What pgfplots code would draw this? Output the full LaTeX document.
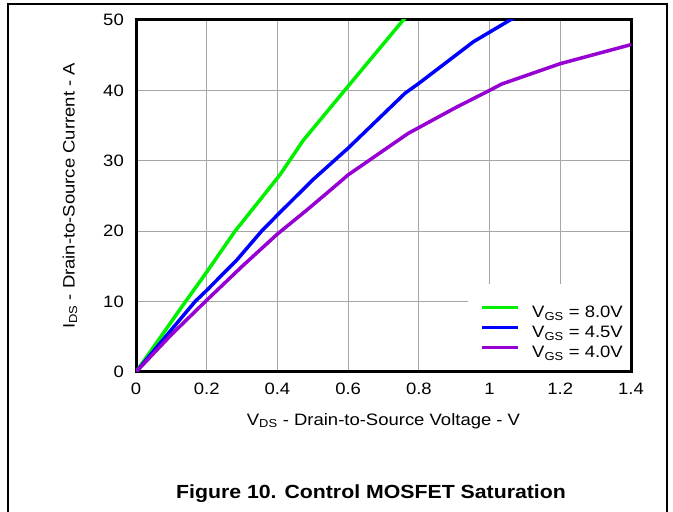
\documentclass[border=0pt]{standalone}
\usepackage{fontspec}
\setmainfont[FakeStretch=1.12]{Liberation Sans}
\usepackage{pgfplots}
\pgfplotsset{compat=1.18}

\definecolor{vgs8}{RGB}{0,240,0}
\definecolor{vgs45}{RGB}{0,0,255}
\definecolor{vgs4}{RGB}{150,0,210}

\newcommand{\tickfont}{\fontsize{16.5}{19}\selectfont}

\begin{document}
\begin{tikzpicture}
\useasboundingbox (0,0) rectangle (673pt,512pt);

\begin{axis}[
    at={(136pt,140pt)}, anchor=south west,
    scale only axis,
    width=495pt, height=352pt,
    xmin=0, xmax=1.4,
    ymin=0, ymax=50,
    xtick={0,0.2,...,1.4},
    ytick={0,10,...,50},
    major tick length=0pt,
    grid=major,
    grid style={gray!70, line width=1.2pt},
    axis line style={line width=3pt},
    /pgf/number format/assume math mode=true,
    xticklabel style={font=\tickfont, inner sep=0pt, anchor=north, yshift=-11pt},
    yticklabel style={font=\tickfont, inner sep=0pt, anchor=east, xshift=-12pt},
    xlabel={V\textsubscript{DS} - Drain-to-Source Voltage - V},
    ylabel={I\textsubscript{DS} - Drain-to-Source Current - A},
    label style={font=\tickfont},
    xlabel style={at={(axis description cs:0.5,-0.1506)}, anchor=base},
    ylabel style={at={(axis description cs:-0.1333,0.5)}, anchor=center},
    legend cell align=left,
    legend image code/.code={
        \path[draw=none, fill=none] (0pt,0pt) rectangle (58pt,1pt);
        \draw[#1, line width=3.5pt] (8pt,0.35em) -- (44pt,0.35em);
    },
    legend style={
        at={(1,0)}, anchor=south east, xshift=-8pt, yshift=12pt,
        draw=none, fill=none,
        inner sep=0pt,
        row sep=2pt,
        font=\tickfont,
        nodes={inner sep=0pt, text height=16pt, text depth=2pt},
    },
]

% white panel behind the legend, inside the axis frame
\fill[white] (rel axis cs:0.6707,0.25) rectangle ([shift={(-1.5pt,1.5pt)}]rel axis cs:1,0);

% VGS = 8.0V
\addplot[vgs8, line width=3.5pt] coordinates {
    (0,0) (0.14,10) (0.2,14.2) (0.28,20) (0.35,24.4) (0.407,28)
    (0.473,32.9) (0.6,40.6) (0.756,50) (0.8,52.6)
};
\addlegendentry{V\textsubscript{GS} = 8.0V}

% VGS = 4.5V
\addplot[vgs45, line width=3.5pt] coordinates {
    (0,0) (0.1,6) (0.167,10) (0.2,11.6) (0.285,15.9) (0.355,20) (0.4,22.3)
    (0.5,27.3) (0.6,31.8) (0.761,39.6) (0.8,41.0) (0.954,46.9) (1.058,50)
    (1.1,51.2)
};
\addlegendentry{V\textsubscript{GS} = 4.5V}

% VGS = 4.0V
\addplot[vgs4, line width=3.5pt] coordinates {
    (0,0) (0.1,5.3) (0.2,10.2) (0.3,15) (0.4,19.6) (0.483,23) (0.556,26.1)
    (0.6,28) (0.77,33.9) (0.902,37.5) (1.0,40) (1.034,40.9) (1.2,43.8)
    (1.4,46.5)
};
\addlegendentry{V\textsubscript{GS} = 4.0V}

\end{axis}

% outer figure frame
\draw[line width=1.5pt] (8pt,0pt) -- (8pt,508pt) -- (667pt,508pt) -- (667pt,0pt);

\node[font=\bfseries\fontsize{19}{22}\selectfont, anchor=base]
    at (371pt,13pt) {Figure 10. Control MOSFET Saturation};
\end{tikzpicture}
\end{document}
